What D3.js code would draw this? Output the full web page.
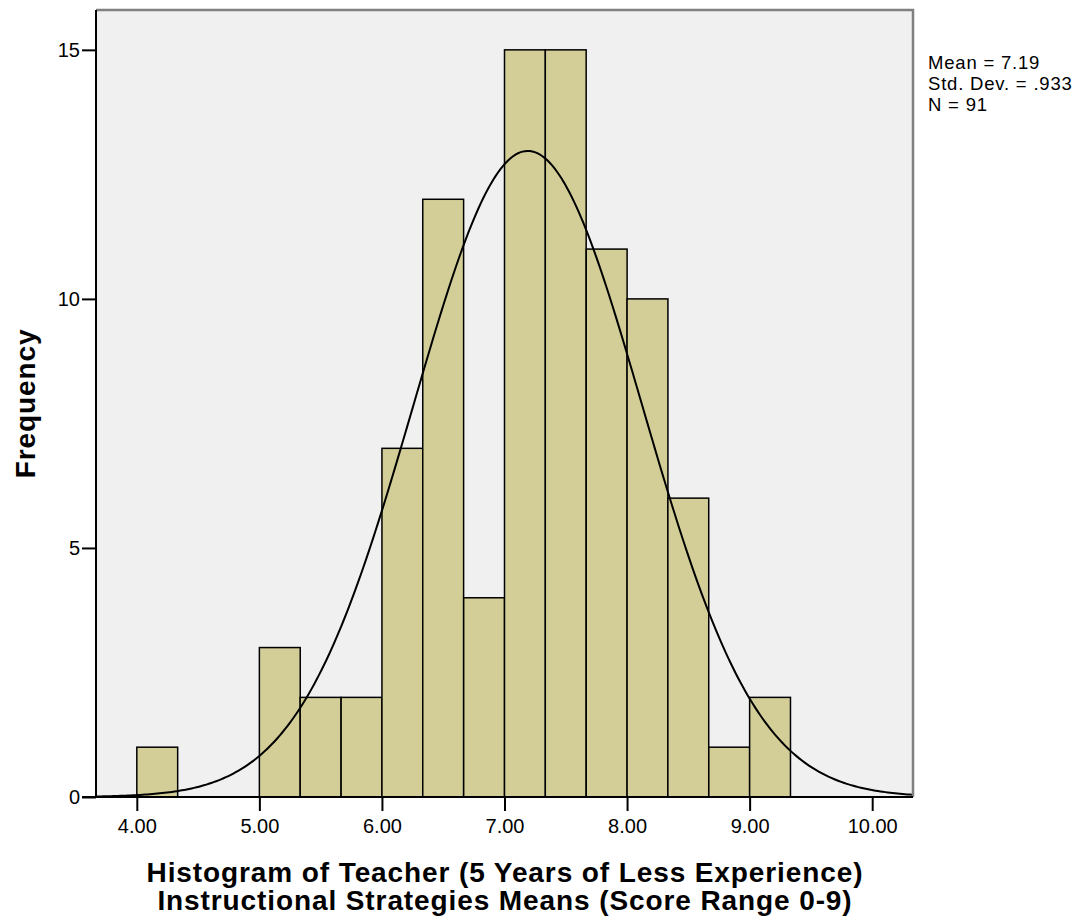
<!DOCTYPE html>
<html>
<head>
<meta charset="utf-8">
<script src="https://cdn.jsdelivr.net/npm/d3@7"></script>
<style>
  body { margin: 0; background: #fff; }
  text { font-family: "Liberation Sans", Arial, sans-serif; }
</style>
</head>
<body>
<div id="chart"></div>
<script>
// histogram bins (width 1/3) and counts
const binStarts = [4.0, 4.333, 4.667, 5.0, 5.333, 5.667, 6.0, 6.333, 6.667, 7.0, 7.333, 7.667, 8.0, 8.333, 8.667, 9.0];
const counts = [1, 0, 0, 3, 2, 2, 7, 12, 4, 15, 15, 11, 10, 6, 1, 2];
const xTicks = [4, 5, 6, 7, 8, 9, 10];
const yTicks = [0, 5, 10, 15];
const statLines = ["Mean = 7.19", "Std. Dev. = .933", "N = 91"];
const mean = 7.19, sd = 0.933, n = 91, binWidth = 1 / 3;

const W = 1085, H = 918;
const margin = { left: 96, top: 10, right: 1085 - 913, bottom: 918 - 797 };

const svg = d3.select("#chart").append("svg")
  .attr("width", W).attr("height", H);

const x = d3.scaleLinear().domain([3.667, 10.333]).range([margin.left, W - margin.right]);
const y = d3.scaleLinear().domain([0, 15.8]).range([H - margin.bottom, margin.top]);

// plot background
svg.append("rect")
  .attr("x", margin.left).attr("y", margin.top)
  .attr("width", x.range()[1] - margin.left)
  .attr("height", y(0) - margin.top)
  .attr("fill", "#f0f0f0");

// bars
svg.append("g").selectAll("rect")
  .data(binStarts.map((s, i) => ({ s, c: counts[i] })).filter(d => d.c > 0))
  .join("rect")
  .attr("x", d => x(d.s))
  .attr("y", d => y(d.c))
  .attr("width", d => x(d.s + binWidth) - x(d.s))
  .attr("height", d => y(0) - y(d.c))
  .attr("fill", "#d3ce98")
  .attr("stroke", "#000")
  .attr("stroke-width", 1.5);

// normal curve
const curveX = d3.range(3.667, 10.34, 0.02);
const norm = v => n * binWidth / (sd * Math.sqrt(2 * Math.PI)) * Math.exp(-0.5 * ((v - mean) / sd) ** 2);
svg.append("path")
  .datum(curveX)
  .attr("d", d3.line().x(d => x(d)).y(d => y(norm(d))))
  .attr("fill", "none")
  .attr("stroke", "#000")
  .attr("stroke-width", 2);

// top and right frame (grey)
svg.append("path")
  .attr("d", `M${margin.left},${margin.top}H${x.range()[1]}V${y(0)}`)
  .attr("fill", "none")
  .attr("stroke", "#808080")
  .attr("stroke-width", 2.5);

// axes
const xAxis = svg.append("g")
  .attr("transform", `translate(0,${y(0)})`)
  .call(d3.axisBottom(x).tickValues(xTicks).tickFormat(d3.format(".2f")).tickSize(14).tickSizeOuter(0));
const yAxis = svg.append("g")
  .attr("transform", `translate(${margin.left},0)`)
  .call(d3.axisLeft(y).tickValues(yTicks).tickSize(14).tickSizeOuter(0));

[xAxis, yAxis].forEach(g => {
  g.attr("font-size", 20).attr("font-family", "Liberation Sans, Arial, sans-serif");
  g.select(".domain").attr("stroke", "#000").attr("stroke-width", 2);
  g.selectAll(".tick line").attr("stroke", "#000").attr("stroke-width", 2);
  g.selectAll(".tick text").attr("fill", "#000");
});
xAxis.select(".domain").attr("d", `M${margin.left - 14},0H${x.range()[1]}`);
xAxis.selectAll(".tick text").attr("y", 22).attr("dy", "0.71em");
yAxis.selectAll(".tick text").attr("x", -16);
yAxis.select(".domain").attr("d", `M0,${y(0)}V${margin.top}`);

// axis titles
svg.append("text")
  .attr("transform", `translate(35,${(margin.top + y(0)) / 2}) rotate(-90)`)
  .attr("text-anchor", "middle")
  .attr("font-size", 28).attr("font-weight", "bold")
  .attr("letter-spacing", 0.9)
  .text("Frequency");

const title = svg.append("text")
  .attr("text-anchor", "middle")
  .attr("font-size", 28).attr("font-weight", "bold")
  .attr("letter-spacing", 0.9);
title.append("tspan").attr("x", 505).attr("y", 882).text("Histogram of Teacher (5 Years of Less Experience)");
title.append("tspan").attr("x", 505).attr("y", 910).text("Instructional Strategies Means (Score Range 0-9)");

// stats legend
svg.append("g").selectAll("text")
  .data(statLines)
  .join("text")
  .attr("x", 928)
  .attr("y", (d, i) => 69 + i * 21)
  .attr("font-size", 18.5)
  .attr("letter-spacing", 0.8)
  .text(d => d);
</script>
</body>
</html>
